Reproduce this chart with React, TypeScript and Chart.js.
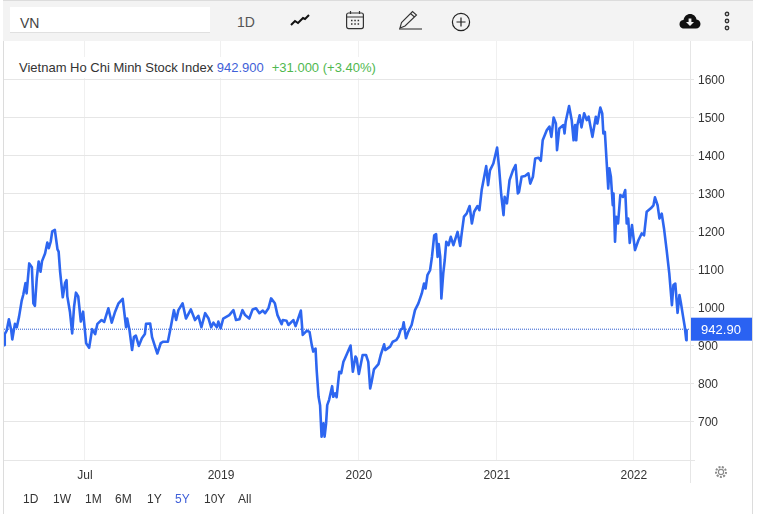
import { useEffect, useRef } from 'react';
import { Chart, registerables } from 'chart.js';

Chart.register(...registerables);

// calendar days since the left edge of the 5Y window
const days = [
  0, 2, 7, 13, 19, 22, 29, 34, 40, 47, 51, 57, 60, 67, 74, 78, 82, 87, 92, 97, 101, 109, 115, 119, 124, 128, 135, 142,
  145, 149, 156, 162, 166, 168, 175, 181, 186, 191, 197, 204, 210, 218, 226, 234, 242, 248, 259, 266, 277, 286, 295,
  304, 315, 324, 327, 333, 340, 345, 350, 358, 366, 374, 377, 388, 393, 401, 407, 416, 423, 435, 443, 451, 457, 463,
  474, 483, 496, 507, 516, 524, 534, 543, 550, 556, 565, 569, 575, 582, 598, 609, 616, 625, 633, 640, 651, 660, 669,
  678, 687, 693, 702, 709, 719, 726, 737, 740, 750, 755, 768, 774, 781, 788, 793, 804, 811, 817, 821, 827, 830, 835,
  839, 843, 848, 851, 855, 858, 863, 871, 874, 879, 883, 890, 895, 901, 905, 920, 926, 933, 936, 942, 952, 961, 967,
  972, 976, 982, 994, 1000, 1009, 1012, 1025, 1032, 1041, 1047, 1053, 1058, 1061, 1067, 1073, 1082, 1091, 1100, 1109,
  1115, 1119, 1124, 1131, 1136, 1142, 1147, 1151, 1154, 1158, 1161, 1166, 1170, 1174, 1180, 1186, 1193, 1204, 1211,
  1215, 1221, 1228, 1236, 1242, 1248, 1257, 1262, 1268, 1280, 1285, 1290, 1299, 1309, 1314, 1320, 1326, 1329, 1335,
  1342, 1351, 1358, 1364, 1367, 1374, 1383, 1392, 1397, 1404, 1410, 1419, 1425, 1430, 1441, 1448, 1453, 1459, 1465,
  1468, 1474, 1485, 1488, 1491, 1500, 1507, 1512, 1516, 1519, 1522, 1528, 1533, 1540, 1547, 1552, 1562, 1571, 1575,
  1583, 1588, 1591, 1595, 1600, 1604, 1607, 1611, 1616, 1618, 1622, 1625, 1630, 1636, 1643, 1649, 1653, 1657, 1661,
  1667, 1675, 1684, 1693, 1699, 1706, 1717, 1724, 1728, 1735, 1740, 1746, 1752, 1759, 1766, 1773, 1777, 1782, 1788,
  1793, 1797, 1802, 1807, 1811, 1812,
];

const closes = [
  901, 930, 939, 969, 941, 916, 957, 948, 976, 1018, 1033, 1064, 1037, 1116, 1106, 1011, 1004, 1077, 1121, 1094, 1122,
  1142, 1171, 1156, 1173, 1200, 1204, 1153, 1147, 1094, 1027, 1064, 1072, 1030, 989, 932, 1002, 1039, 1029, 963, 989,
  906, 894, 943, 930, 957, 967, 962, 998, 960, 989, 1011, 1023, 948, 971, 941, 888, 923, 926, 899, 919, 930, 957, 958,
  922, 897, 879, 906, 910, 910, 950, 993, 967, 993, 1011, 971, 995, 967, 978, 948, 985, 971, 948, 960, 948, 963, 945,
  971, 980, 993, 967, 969, 993, 980, 971, 995, 998, 985, 992, 985, 998, 1024, 1011, 980, 956, 967, 965, 954, 967, 951,
  971, 992, 928, 939, 936, 901, 884, 892, 835, 765, 743, 660, 695, 660, 695, 743, 757, 793, 765, 774, 764, 831, 827,
  857, 866, 900, 831, 871, 866, 825, 875, 875, 857, 787, 805, 837, 851, 875, 903, 888, 897, 910, 914, 923, 942, 945,
  961, 919, 936, 954, 993, 1011, 1037, 1063, 1050, 1085, 1098, 1133, 1190, 1193, 1133, 1167, 1133, 1024, 1090, 1125,
  1173, 1164, 1186, 1164, 1199, 1162, 1195, 1239, 1247, 1267, 1221, 1252, 1267, 1256, 1309, 1372, 1322, 1361, 1379,
  1421, 1370, 1296, 1243, 1291, 1274, 1335, 1361, 1375, 1300, 1304, 1344, 1346, 1353, 1326, 1344, 1392, 1394, 1386,
  1440, 1467, 1476, 1449, 1500, 1484, 1414, 1471, 1480, 1458, 1489, 1530, 1493, 1440, 1480, 1440, 1480, 1506, 1474,
  1511, 1493, 1502, 1449, 1502, 1484, 1526, 1511, 1458, 1462, 1379, 1313, 1366, 1344, 1269, 1300, 1173, 1239, 1221,
  1296, 1291, 1309, 1221, 1234, 1170, 1217, 1151, 1177, 1195, 1190, 1252, 1261, 1269, 1290, 1269, 1234, 1247, 1208,
  1151, 1090, 1006, 1059, 1063, 986, 1033, 1011, 980, 950, 914, 943,
];

const priceTicks = [700, 800, 900, 1000, 1100, 1200, 1300, 1400, 1500, 1600];
const timeTickDays = [215, 576, 942, 1308, 1672];
const timeTickLabels = ['Jul', '2019', '2020', '2021', '2022'];
const rangeButtons = ['1D', '1W', '1M', '6M', '1Y', '5Y', '10Y', 'All'];
const rangeLefts = [23, 53, 85, 115, 147, 175, 204, 238];

const lastPrice = 942.9;
const lastChange = '+31.000 (+3.40%)';
const lineBlue = '#2d66f0';
const font = '"Liberation Sans", Arial, sans-serif';

const priceFlag = {
  id: 'priceFlag',
  afterDatasetsDraw(chart: any) {
    const { ctx, scales } = chart;
    const y = scales.y.getPixelForValue(lastPrice);
    ctx.save();
    ctx.fillStyle = '#2a62f2';
    ctx.fillRect(691, y - 11.5, 61, 23);
    ctx.fillStyle = '#fff';
    ctx.font = '13px ' + font;
    ctx.textAlign = 'center';
    ctx.textBaseline = 'middle';
    ctx.fillText(lastPrice.toFixed(2), 721, y + 1);
    ctx.restore();
  },
};

function Label({ left, top, color, size, children }: any) {
  return (
    <div style={{ position: 'absolute', left, top, color: color || '#333', fontSize: size || 12, lineHeight: '16px', whiteSpace: 'nowrap' }}>
      {children}
    </div>
  );
}

export default function App() {
  const chartRef = useRef<HTMLCanvasElement>(null);

  useEffect(() => {
    if (!chartRef.current) return;
    const chart = new Chart(chartRef.current, {
      type: 'line',
      data: {
        datasets: [
          {
            data: days.map((d, i) => ({ x: d, y: closes[i] })),
            borderColor: lineBlue,
            borderWidth: 2.6,
            borderJoinStyle: 'round',
            pointRadius: 0,
            tension: 0,
          },
          {
            data: [
              { x: 0, y: lastPrice },
              { x: 1821, y: lastPrice },
            ],
            borderColor: '#2a5ad0',
            borderWidth: 1,
            borderDash: [1, 1],
            pointRadius: 0,
          },
        ],
      },
      plugins: [priceFlag],
      options: {
        animation: false,
        responsive: false,
        layout: { padding: { left: 4, top: 41, right: 0, bottom: 0 } },
        plugins: { legend: { display: false }, tooltip: { enabled: false } },
        scales: {
          x: {
            type: 'linear',
            min: 0,
            max: 1821,
            afterFit: (scale: any) => { scale.height = 54; },
            afterBuildTicks: (scale: any) => { scale.ticks = timeTickDays.map((value) => ({ value })); },
            ticks: {
              autoSkip: false,
              maxRotation: 0,
              padding: 8,
              color: '#333',
              font: { family: font, size: 12 },
              callback: (value: any) => timeTickLabels[timeTickDays.indexOf(value)],
            },
            grid: { color: '#f0f0f0', drawTicks: false },
            border: { display: false },
          },
          y: {
            position: 'right',
            min: 598.7,
            max: 1701.3,
            afterFit: (scale: any) => { scale.width = 69; },
            afterBuildTicks: (scale: any) => { scale.ticks = priceTicks.map((value) => ({ value })); },
            ticks: {
              padding: 4,
              labelOffset: 1,
              color: '#333',
              font: { family: font, size: 12 },
              callback: (value: any) => String(value),
            },
            grid: { color: '#e6e6e6', tickLength: 4 },
            border: { display: false },
          },
        },
      },
    });
    return () => chart.destroy();
  }, []);

  return (
    <div style={{ position: 'absolute', left: 0, top: 0, width: 759, height: 514, overflow: 'hidden', background: '#fff', fontFamily: font }}>
      <canvas ref={chartRef} width={759} height={514} style={{ position: 'absolute', left: 0, top: 0, display: 'block' }} />

      {/* frame and axis rules */}
      <div style={{ position: 'absolute', left: 3, top: 1, width: 1, height: 513, background: '#dcdcdc' }} />
      <div style={{ position: 'absolute', left: 752, top: 1, width: 1, height: 513, background: '#dcdcdc' }} />
      <div style={{ position: 'absolute', left: 4, top: 460, width: 691, height: 1, background: '#e6e6e6' }} />
      <div style={{ position: 'absolute', left: 690, top: 41, width: 1, height: 442, background: '#e6e6e6' }} />

      {/* toolbar */}
      <div style={{ position: 'absolute', left: 3, top: 0, width: 750, height: 41, background: '#f3f3f3', borderTop: '1px solid #dcdcdc', boxSizing: 'border-box' }} />
      <div style={{ position: 'absolute', left: 10, top: 7, width: 200, height: 26, background: '#fff', borderBottom: '1px solid #e0e0e0', boxSizing: 'border-box' }} />
      <Label left={20} top={15} size={14} color="#444">VN</Label>
      <Label left={237} top={14} size={14} color="#555">1D</Label>
      <svg style={{ position: 'absolute', left: 290, top: 14 }} width={20} height={14} viewBox="0 0 20 14" fill="none" stroke="#111" strokeWidth={2}>
        <path d="M1 11 L5 7 L8 9 L13 4 L15 5 L19 1" />
      </svg>
      <svg style={{ position: 'absolute', left: 345, top: 10 }} width={20} height={20} viewBox="0 0 20 20" fill="none" stroke="#333" strokeWidth={1.2}>
        <rect x={1.6} y={3} width={16.8} height={15.6} rx={2} />
        <path d="M2 7 H18 M5.5 1 V4 M14.5 1 V4" />
        <path d="M6 10.5 H7.5 M9.3 10.5 H10.8 M12.6 10.5 H14.1 M6 14 H7.5 M9.3 14 H10.8 M12.6 14 H14.1" strokeWidth={1.5} />
      </svg>
      <svg style={{ position: 'absolute', left: 398, top: 10 }} width={26} height={20} viewBox="0 0 26 20" fill="none" stroke="#333" strokeWidth={1.1}>
        <path d="M2 18 L3.5 12.5 L14.5 1.5 L18.5 5 L7 16 Z M12.5 3.5 L16.5 7" />
        <path d="M1 19 H24" />
      </svg>
      <svg style={{ position: 'absolute', left: 451, top: 12 }} width={20} height={20} viewBox="0 0 20 20" fill="none" stroke="#222" strokeWidth={1.2}>
        <circle cx={10} cy={10} r={8.6} />
        <path d="M10 5.5 V14.5 M5.5 10 H14.5" />
      </svg>
      <svg style={{ position: 'absolute', left: 679, top: 13 }} width={22} height={16} viewBox="0 0 22 16">
        <path d="M5 15.5 C1.5 15.5 0.5 12.8 0.5 11 C0.5 8.6 2.5 7 4.5 7 C5.2 3.2 8 1 11 1 C14.5 1 17 3.4 17.5 6.5 C20 6.8 21.5 8.8 21.5 11 C21.5 13.6 19.5 15.5 17 15.5 Z" fill="#111" />
        <path d="M9.6 5.5 H12.4 V9 H15 L11 13 L7 9 H9.6 Z" fill="#f3f3f3" />
      </svg>
      <svg style={{ position: 'absolute', left: 723, top: 11 }} width={8} height={20} viewBox="0 0 8 20" fill="none" stroke="#333" strokeWidth={1.4}>
        <circle cx={4} cy={3} r={1.7} />
        <circle cx={4} cy={10} r={1.7} />
        <circle cx={4} cy={17} r={1.7} />
      </svg>

      {/* instrument caption */}
      <div style={{ position: 'absolute', left: 15, top: 57, width: 365, height: 21, background: '#fff' }} />
      <Label left={19} top={60} size={13}>
        Vietnam Ho Chi Minh Stock Index <span style={{ color: '#3f5fd8' }}>{lastPrice.toFixed(3)}</span>
        <span style={{ color: '#4fb84f', marginLeft: 8 }}>{lastChange}</span>
      </Label>

      {/* settings gear */}
      <svg style={{ position: 'absolute', left: 714, top: 465 }} width={14} height={14} viewBox="0 0 14 14" fill="none" stroke="#8a8a8a">
        <circle cx={7} cy={7} r={2.6} strokeWidth={1.1} />
        <circle cx={7} cy={7} r={5} strokeWidth={2} strokeDasharray="2 1.4" />
      </svg>

      {/* range selector */}
      {rangeButtons.map((name, i) => (
        <Label key={name} left={rangeLefts[i]} top={491} color={name === '5Y' ? '#3f5fd8' : '#333'}>{name}</Label>
      ))}
    </div>
  );
}
